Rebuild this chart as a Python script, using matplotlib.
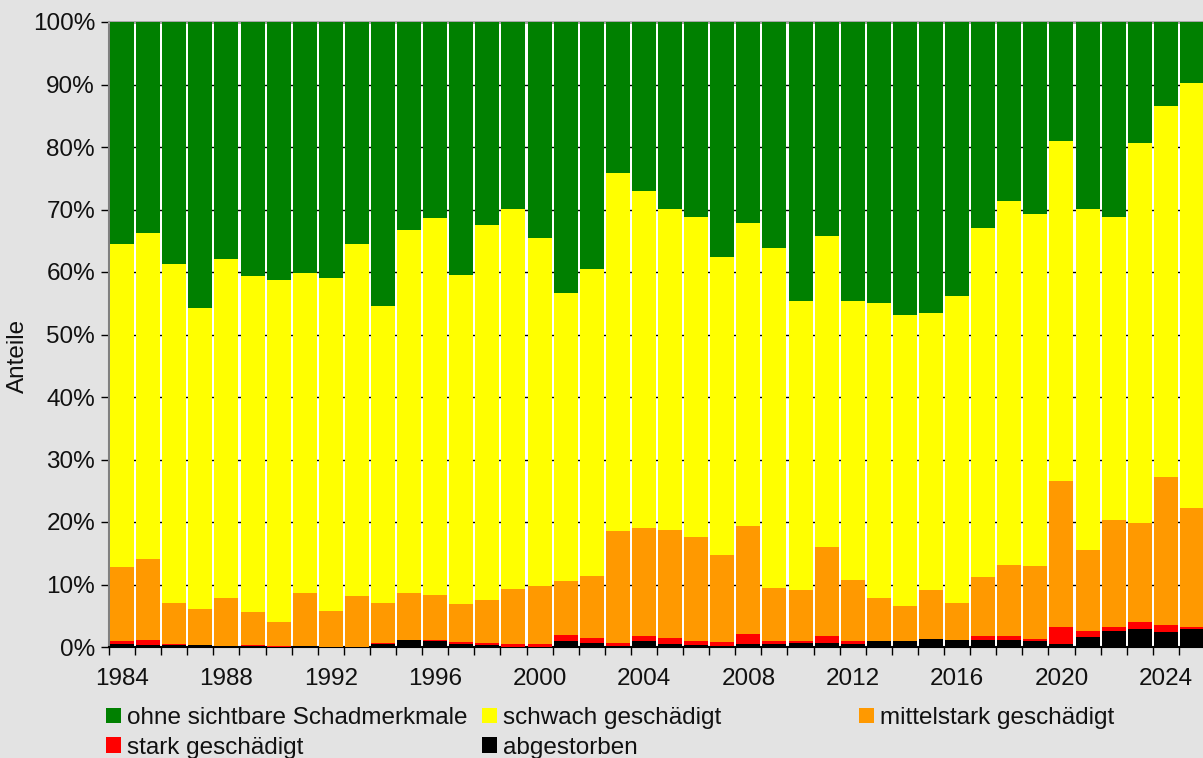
import numpy as np
import matplotlib.pyplot as plt
from matplotlib.patches import Patch

plt.rcParams['font.family'] = ['Liberation Sans', 'DejaVu Sans']

years = list(range(1984, 2026))

# Anteile in Prozent je Schadstufe
abgestorben = [0.5, 0.3, 0.4, 0.4, 0.2, 0.2, 0.0, 0.2, 0.0, 0.0,
               0.5, 1.1, 1.0, 0.5, 0.4, 0.0, 0.0, 0.9, 0.7, 0.2,
               1.0, 0.5, 0.4, 0.2, 0.5, 0.5, 0.7, 0.7, 0.5, 0.9,
               0.9, 1.3, 1.2, 1.2, 1.2, 1.0, 0.5, 1.6, 2.6, 2.9,
               2.4, 2.9]
stark = [0.5, 0.9, 0.1, 0.0, 0.0, 0.1, 0.2, 0.0, 0.0, 0.0,
         0.2, 0.0, 0.2, 0.3, 0.3, 0.5, 0.5, 1.1, 0.8, 0.5,
         0.8, 1.0, 0.5, 0.6, 1.6, 0.5, 0.3, 1.1, 0.5, 0.1,
         0.0, 0.0, 0.0, 0.5, 0.5, 0.3, 2.7, 1.0, 0.6, 1.1,
         1.1, 0.3]
mittelstark = [11.8, 12.9, 6.5, 5.7, 7.6, 5.3, 3.8, 8.4, 5.8, 8.1,
               6.3, 7.5, 7.1, 6.1, 6.8, 8.8, 9.3, 8.5, 9.8, 17.9,
               17.3, 17.3, 16.7, 14.0, 17.3, 8.4, 8.1, 14.2, 9.7, 6.9,
               5.6, 7.8, 5.8, 9.5, 11.5, 11.6, 23.4, 12.9, 17.1, 15.8,
               23.7, 19.1]
schwach = [51.6, 52.2, 54.3, 48.1, 54.3, 53.8, 54.8, 51.3, 53.3, 56.4,
           47.5, 58.2, 60.4, 52.7, 60.1, 60.8, 55.7, 46.2, 49.1, 57.2,
           53.9, 51.3, 51.2, 47.6, 48.4, 54.5, 46.2, 49.7, 44.6, 47.2,
           46.7, 44.4, 49.2, 55.9, 58.2, 56.4, 54.3, 54.6, 48.5, 60.8,
           59.3, 67.9]
ohne = [35.6, 33.7, 38.7, 45.8, 37.9, 40.6, 41.2, 40.1, 40.9, 35.5,
        45.5, 33.2, 31.3, 40.4, 32.4, 29.9, 34.5, 43.3, 39.6, 24.2,
        27.0, 29.9, 31.2, 37.6, 32.2, 36.1, 44.7, 34.3, 44.7, 44.9,
        46.8, 46.5, 43.8, 32.9, 28.6, 30.7, 19.1, 29.9, 31.2, 19.4,
        13.5, 9.8]

series = [
    ("abgestorben", abgestorben, "#000000"),
    ("stark geschädigt", stark, "#ff0000"),
    ("mittelstark geschädigt", mittelstark, "#ff9900"),
    ("schwach geschädigt", schwach, "#ffff00"),
    ("ohne sichtbare Schadmerkmale", ohne, "#008000"),
]

bg = "#e3e3e3"
W, H = 1203, 758
fig = plt.figure(figsize=(W / 100, H / 100), dpi=100, facecolor=bg)
ax = fig.add_axes([109 / W, 111 / H, 1096 / W, 625 / H])
ax.set_facecolor("white")

x = np.arange(len(years))
bottom = np.zeros(len(years))
for name, vals, col in series:
    ax.bar(x, vals, bottom=bottom, width=0.92, color=col, zorder=3)
    bottom += np.array(vals)

ax.set_xlim(-0.5, len(years) - 0.5)
ax.set_ylim(0, 100)
ax.set_yticks(np.arange(0, 101, 10))
ax.set_yticklabels([f"{v}%" for v in range(0, 101, 10)])
ax.yaxis.grid(True, color="black", linewidth=1.0, zorder=0)
ax.set_axisbelow(True)

ax.set_xticks(np.arange(len(years) + 1) - 0.5)
ax.set_xticklabels([])
ax.set_xticks(x[::4], [str(y) for y in years[::4]], minor=True)
ax.tick_params(axis="x", which="major", length=6, width=1, color="black")
ax.tick_params(axis="x", which="minor", length=0, pad=15, labelsize=17.5, labelcolor="#111111")
ax.tick_params(axis="y", length=6, width=1, pad=4, labelsize=17.5, labelcolor="#111111")

ax.spines["right"].set_visible(False)
ax.spines["top"].set_color("#a0a0a0")
ax.spines["top"].set_linewidth(2)
ax.spines["left"].set_color("#808080")
ax.spines["left"].set_linewidth(1.5)
ax.spines["bottom"].set_color("black")
ax.spines["bottom"].set_linewidth(1.5)

fig.text(18 / W, 1 - 356 / H, "Anteile", rotation=90, ha="center", va="center",
         fontsize=17.5, color="#111111")

colors = {name: col for name, vals, col in series}
columns = [
    (106, ["ohne sichtbare Schadmerkmale", "stark geschädigt"]),
    (482, ["schwach geschädigt", "abgestorben"]),
    (859, ["mittelstark geschädigt"]),
]
for xpx, names in columns:
    handles = [Patch(facecolor=colors[n], edgecolor="none") for n in names]
    fig.legend(handles, names, loc="upper left", bbox_to_anchor=(xpx / W, 1 - 707 / H),
               frameon=False, fontsize=17.5, handlelength=0.6, handleheight=0.6,
               handletextpad=0.25, labelspacing=0.32, borderpad=0, borderaxespad=0,
               labelcolor="#111111")

fig.savefig("out.png", dpi=100, facecolor=bg)
